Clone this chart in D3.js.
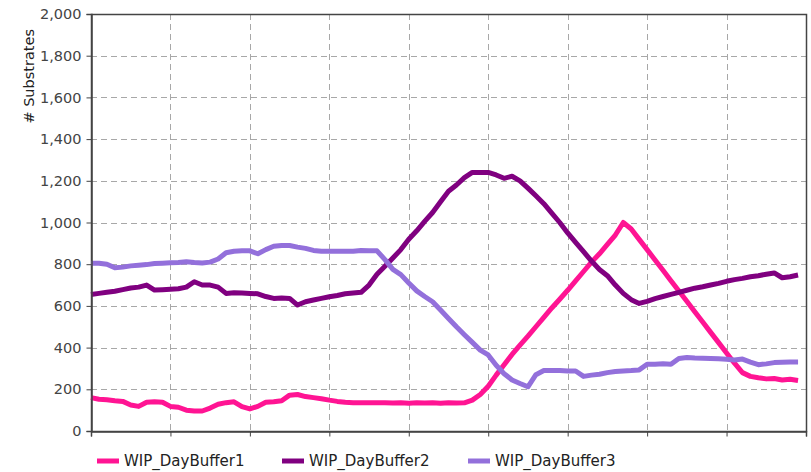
<!DOCTYPE html>
<html>
<head>
<meta charset="utf-8">
<script src="https://cdn.jsdelivr.net/npm/d3@7"></script>
<style>
  html, body { margin: 0; padding: 0; background: #fff; }
  svg { display: block; }
</style>
</head>
<body>
<svg id="chart" width="811" height="472"></svg>
<script>
const seriesNames = ["WIP_DayBuffer1", "WIP_DayBuffer2", "WIP_DayBuffer3"];
const seriesColors = ["#ff1493", "#800080", "#9370db"];
const yTicks = [0, 200, 400, 600, 800, 1000, 1200, 1400, 1600, 1800, 2000];
const xTicks = [0, 10, 20, 30, 40, 50, 60, 70, 80, 90];
const yLabel = "# Substrates";

const buffer1 = [160,152,150,145,142,125,118,138,140,138,118,114,100,96,96,110,128,136,140,117,
  106,118,138,140,145,172,175,165,160,155,148,142,138,136,135,136,135,136,134,135,
  133,136,134,135,133,136,134,135,148,175,215,268,318,367,412,455,500,545,590,632,
  675,720,765,810,850,895,940,1000,969,919,870,820,771,721,671,622,572,523,473,424,
  374,325,280,262,255,250,252,245,248,242];
const buffer2 = [655,660,665,670,678,686,690,700,676,678,680,682,690,716,700,700,690,660,663,662,
  660,658,645,636,638,636,604,620,628,636,644,650,658,662,665,700,752,790,830,870,
  920,960,1005,1048,1100,1150,1180,1215,1240,1240,1240,1228,1212,1222,1200,1165,1128,1090,1045,1000,
  950,905,860,815,775,745,700,660,630,612,622,635,645,655,665,675,685,692,700,708,
  718,726,732,740,745,752,758,735,740,748];
const buffer3 = [805,805,800,783,786,792,795,798,803,805,807,808,812,808,806,810,825,855,862,864,
  864,850,870,886,890,890,882,876,866,862,862,862,862,862,866,865,864,822,775,750,
  710,672,645,620,580,540,500,462,425,388,365,315,275,245,228,212,270,290,290,290,
  288,288,262,268,272,280,285,288,290,293,320,320,322,320,348,352,350,349,348,346,
  344,341,345,330,318,322,328,330,331,331];
const seriesData = [buffer1, buffer2, buffer3];

const svg = d3.select("#chart");
const pLeft = 91, pTop = 14, pRight = 806, pBottom = 431;

const x = d3.scaleLinear().domain([0, 90]).range([pLeft, pRight]);
const y = d3.scaleLinear().domain([0, 2000]).range([pBottom, pTop]);

const font = "'DejaVu Sans', Verdana, sans-serif";

// grid
const grid = svg.append("g");
grid.selectAll("line.h").data(yTicks.slice(1)).join("line")
  .attr("x1", pLeft).attr("x2", pRight)
  .attr("y1", d => Math.round(y(d)) + 0.5).attr("y2", d => Math.round(y(d)) + 0.5)
  .attr("stroke", "#a8a8a8").attr("stroke-width", 1).attr("stroke-dasharray", "6,4");
grid.selectAll("line.v").data(xTicks.slice(1)).join("line")
  .attr("y1", pTop).attr("y2", pBottom)
  .attr("x1", d => Math.round(x(d)) + 0.5).attr("x2", d => Math.round(x(d)) + 0.5)
  .attr("stroke", "#a8a8a8").attr("stroke-width", 1).attr("stroke-dasharray", "6,4");

// plot border
svg.append("rect")
  .attr("x", pLeft + 0.5).attr("y", pTop + 0.5)
  .attr("width", pRight - pLeft).attr("height", pBottom - pTop)
  .attr("fill", "none").attr("stroke", "#444").attr("stroke-width", 1.5);

// lines
const line = d3.line().x((d, i) => x(i)).y(d => y(d));
svg.append("g").selectAll("path").data(seriesData).join("path")
  .attr("d", line)
  .attr("fill", "none")
  .attr("stroke", (d, i) => seriesColors[i])
  .attr("stroke-width", 5)
  .attr("stroke-linejoin", "round")
  .attr("stroke-linecap", "butt");

// axes
const yAxis = svg.append("g").attr("transform", `translate(${pLeft + 0.5},0)`)
  .call(d3.axisLeft(y).tickValues(yTicks).tickFormat(d3.format(",")).tickSize(5).tickPadding(5));
const xAxis = svg.append("g").attr("transform", `translate(0,${pBottom + 0.5})`)
  .call(d3.axisBottom(x).tickValues(xTicks).tickFormat("").tickSize(5));
[yAxis, xAxis].forEach(a => {
  a.select(".domain").attr("stroke", "#444").attr("stroke-width", 1.5);
  a.selectAll(".tick line").attr("stroke", "#444");
  a.selectAll("text").attr("fill", "#444").style("font-family", font).style("font-size", "14.5px");
});

// y label
svg.append("text")
  .attr("transform", `translate(34,29) rotate(-90)`)
  .attr("text-anchor", "end")
  .style("font-family", font).style("font-size", "14.5px").attr("fill", "#222")
  .text(yLabel);

// legend
const legendX = [97, 282, 468];
const lg = svg.append("g").selectAll("g").data(seriesNames).join("g")
  .attr("transform", (d, i) => `translate(${legendX[i]},461)`);
lg.append("line").attr("x1", 0).attr("x2", 22).attr("y1", 0).attr("y2", 0)
  .attr("stroke", (d, i) => seriesColors[i]).attr("stroke-width", 5);
lg.append("text").attr("x", 27).attr("y", 5)
  .style("font-family", font).style("font-size", "15px").attr("fill", "#222")
  .text(d => d);
</script>
</body>
</html>
